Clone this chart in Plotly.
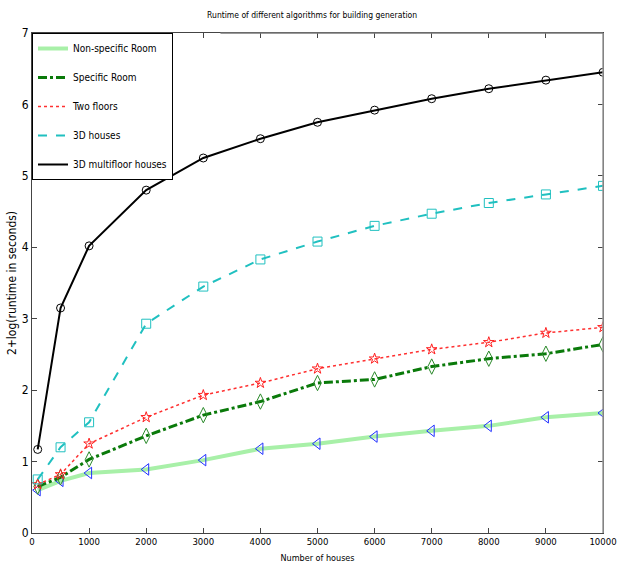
import plotly.graph_objects as go

houses = [100, 500, 1000, 2000, 3000, 4000, 5000, 6000, 7000, 8000, 9000, 10000]
non_specific = [0.60, 0.73, 0.84, 0.89, 1.02, 1.18, 1.25, 1.35, 1.43, 1.50, 1.62, 1.68]
specific = [0.65, 0.78, 1.03, 1.36, 1.65, 1.84, 2.10, 2.15, 2.33, 2.44, 2.51, 2.64]
two_floors = [0.68, 0.82, 1.25, 1.62, 1.93, 2.10, 2.30, 2.44, 2.57, 2.67, 2.80, 2.88]
houses_3d = [0.75, 1.20, 1.55, 2.93, 3.45, 3.83, 4.08, 4.30, 4.47, 4.62, 4.74, 4.86]
multifloor = [1.17, 3.15, 4.02, 4.80, 5.25, 5.52, 5.75, 5.92, 6.08, 6.22, 6.34, 6.45]

x_ticks = [0, 1000, 2000, 3000, 4000, 5000, 6000, 7000, 8000, 9000, 10000]
x_tick_labels = ["0", "1000", "2000", "3000", "4000", "5000", "6000", "7000", "8000", "9000", "10000"]
y_ticks = [0, 1, 2, 3, 4, 5, 6, 7]

FONT = "DejaVu Sans Condensed, Liberation Sans Narrow, Arial Narrow, Liberation Sans, sans-serif"

series = [
    ("Non-specific Room", non_specific, "#a8f0a8", "solid", 4, "triangle-left-open", "#2030ff", 10),
    ("Specific Room", specific, "#0a7a0a", "dashdot", 3, "diamond-tall-open", "#2a8a2a", 11),
    ("Two floors", two_floors, "#ff3030", "dot", 1.5, "star-open", "#ff2020", 8),
    ("3D houses", houses_3d, "#20c0c0", "dash", 2, "square-open", "#20c0c0", 9),
    ("3D multifloor houses", multifloor, "#000000", "solid", 2, "circle-open", "#000000", 8),
]

fig = go.Figure()
for i, (name, vals, lc, dash, w, sym, mc, ms) in enumerate(series):
    fig.add_trace(go.Scatter(
        x=houses, y=vals, name=name, mode="lines+markers", showlegend=False,
        line=dict(color=lc, dash=dash, width=w),
        marker=dict(symbol=sym, color=mc, size=ms, line=dict(width=1, color=mc)),
    ))
for i, (name, vals, lc, dash, w, sym, mc, ms) in enumerate(series):
    fig.add_trace(go.Scatter(
        x=[None], y=[None], name=name, mode="lines", legendgroup=f"g{i}",
        line=dict(color=lc, dash=dash, width=w),
    ))

fig.update_layout(
    width=618, height=578,
    margin=dict(l=32, r=15, t=33, b=45),
    paper_bgcolor="white", plot_bgcolor="white",
    font=dict(family=FONT, size=10, color="#000"),
    title=dict(text="Runtime of different algorithms for building generation",
               x=0.505, xanchor="center", y=0.974, yanchor="middle",
               font=dict(family=FONT, size=8.5)),
    showlegend=True,
    legend=dict(x=0.0, y=1.0, xanchor="left", yanchor="top",
                bordercolor="#000", borderwidth=1, bgcolor="white",
                font=dict(family=FONT, size=10), itemwidth=30,
                tracegroupgap=10),
    xaxis=dict(range=[0, 10000], tickvals=x_ticks, ticktext=x_tick_labels,
               ticks="inside", ticklen=5, automargin=False,
               showgrid=False, zeroline=False, showline=True, linecolor="#444",
               mirror="ticks", tickfont=dict(family=FONT, size=9.5),
               ticklabeloverflow="allow",
               title=dict(text="Number of houses", font=dict(family=FONT, size=9), standoff=8)),
    yaxis=dict(range=[0, 7], tickvals=y_ticks, ticks="inside", ticklen=5, automargin=False,
               showgrid=False, zeroline=False, showline=True, linecolor="#444",
               mirror="ticks", tickfont=dict(family=FONT, size=12),
               title=dict(text="2+log(runtime in seconds)", font=dict(family=FONT, size=12), standoff=2)),
    shapes=[
        dict(type="line", xref="paper", yref="paper", x0=1, x1=1, y0=0, y1=1,
             line=dict(color="#999", width=1.5), layer="above"),
        dict(type="line", xref="paper", yref="paper", x0=0.33, x1=1, y0=1, y1=1,
             line=dict(color="#777", width=1.5), layer="above"),
    ],
)

fig.write_html("out.html", config={"displayModeBar": False},
               post_script="document.body.style.margin='0';")
